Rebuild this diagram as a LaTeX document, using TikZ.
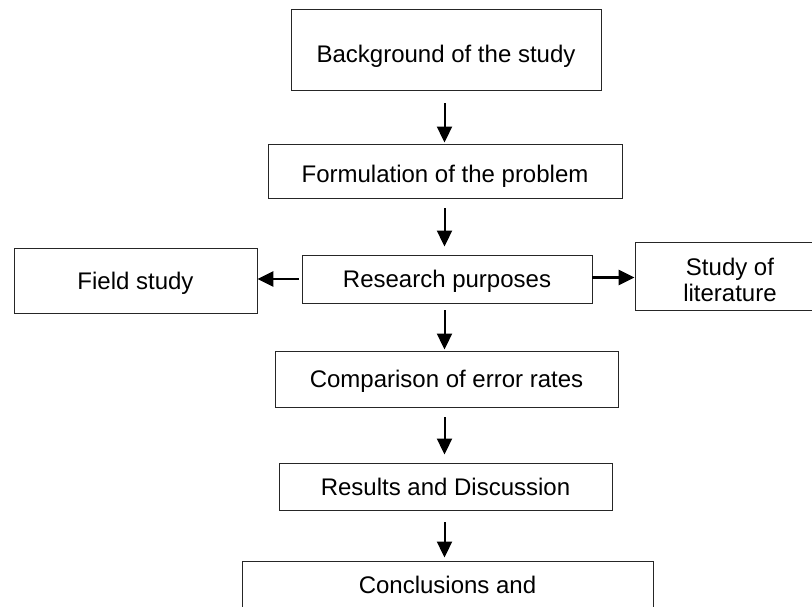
\documentclass[tikz,border=0pt]{standalone}
\usepackage{fontspec}
\setmainfont{Liberation Sans}
\usetikzlibrary{arrows.meta}
\tikzset{
  box/.style={draw=black!85, line width=0.9pt, inner sep=0pt, align=center,
    font=\fontsize{24}{26}\selectfont, text height=17.2pt, text depth=0pt},
  varr/.style={line width=2pt, -{Triangle[length=16pt,width=15pt]}},
  harr/.style={line width=2.8pt, -{Triangle[length=16pt,width=15pt]}}
}
\begin{document}
\begin{tikzpicture}[x=1pt,y=-1pt]
\useasboundingbox (0,0) rectangle (812,606);
\node[box, minimum width=310pt, minimum height=81pt, text height=25.2pt] (b1) at (446,49.5) {Background of the study};
\node[box, minimum width=354pt, minimum height=54pt, text height=23.2pt] (b2) at (445,171) {Formulation of the problem};
\node[box, minimum width=290pt, minimum height=48pt] (rp) at (447,279) {Research purposes};
\node[box, minimum width=243pt, minimum height=65pt] (fs) at (135.5,280.5) {Field study};
\node[box, minimum width=190pt, minimum height=68pt, text height=50pt, text depth=0pt] (sl) at (730,276) {Study of\\literature};
\node[box, minimum width=343pt, minimum height=56pt] (cp) at (446.5,379) {Comparison of error rates};
\node[box, minimum width=333pt, minimum height=47pt] (rd) at (445.5,486.5) {Results and Discussion};
\node[box, minimum width=411pt, minimum height=70pt, text depth=23.2pt] (cc) at (447.5,596) {Conclusions and};
\coordinate (axis) at (444.5,0);
\draw[varr, shorten <=13pt, shorten >=1pt] (b1.south -| axis) -- (b2.north -| axis);
\draw[varr, shorten <=10pt, shorten >=8pt] (b2.south -| axis) -- (rp.north -| axis);
\draw[varr, shorten <=7pt, shorten >=1pt] (rp.south -| axis) -- (cp.north -| axis);
\draw[varr, shorten <=10pt, shorten >=8pt] (cp.south -| axis) -- (rd.north -| axis);
\draw[varr, shorten <=12pt, shorten >=3pt] (rd.south -| axis) -- (cc.north -| axis);
\draw[harr, shorten <=3pt] (rp.west) -- (rp.west -| fs.east);
\draw[harr] ([yshift=1.5pt]rp.east) -- ([yshift=1.5pt]rp.east -| sl.west);
\end{tikzpicture}
\end{document}
